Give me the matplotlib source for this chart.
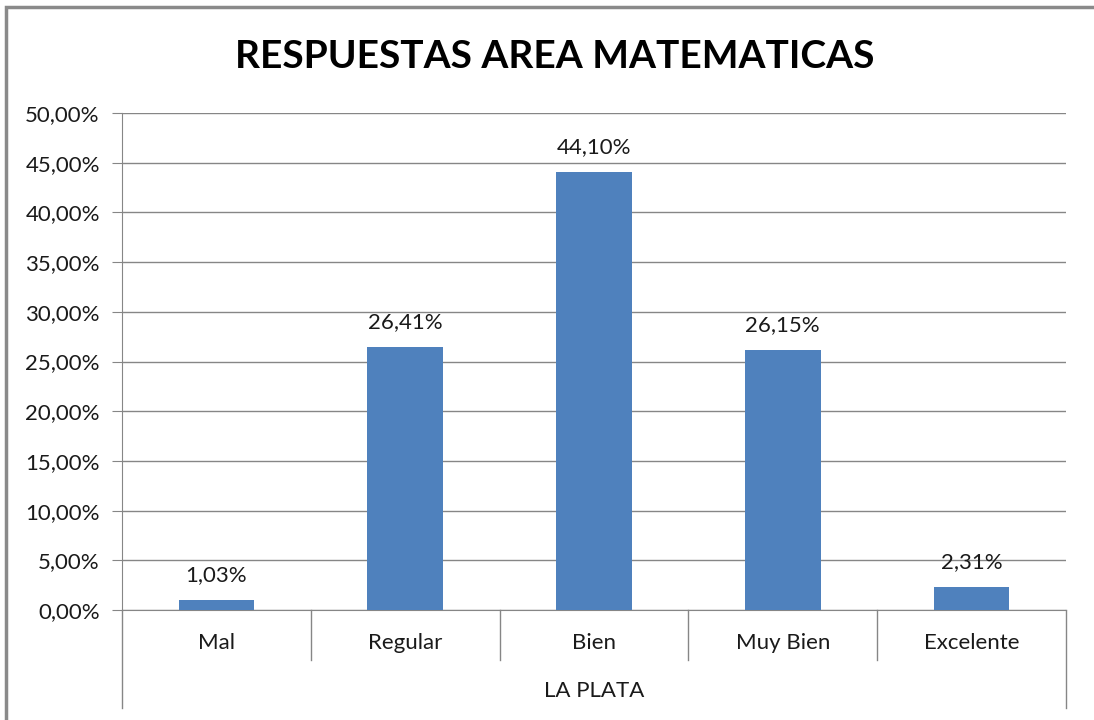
import matplotlib
matplotlib.use('Agg')
import matplotlib.pyplot as plt
import matplotlib.transforms as mtransforms
from matplotlib.patches import Rectangle

# data
categories = ['Mal', 'Regular', 'Bien', 'Muy Bien', 'Excelente']
values = [1.03, 26.41, 44.10, 26.15, 2.31]
value_labels = ['1,03%', '26,41%', '44,10%', '26,15%', '2,31%']
group_label = 'LA PLATA'
title = 'RESPUESTAS AREA MATEMATICAS'
yticks = [0, 5, 10, 15, 20, 25, 30, 35, 40, 45, 50]
ytick_labels = ['%d,00%%' % t for t in yticks]

W, H = 1094, 720
fig = plt.figure(figsize=(W / 100, H / 100), dpi=100)
plt.rcParams['font.family'] = ['Lato', 'DejaVu Sans']

grid_col = '#868686'
text_col = '#1a1a1a'
fs = 16

# outer frame (only left/top visible in the crop)
fig.patches.append(Rectangle((6 / W, -0.1), 1.2, (H - 7) / H + 0.1, transform=fig.transFigure,
                             fill=False, edgecolor='#8a8a8a', linewidth=2.5))

# plot area in pixels
x0, x1, ytop, ybot = 122, 1066, 113, 610
ax = fig.add_axes([x0 / W, (H - ybot) / H, (x1 - x0) / W, (ybot - ytop) / H])

xs = list(range(len(categories)))
ax.bar(xs, values, width=0.4, color='#4F81BD', zorder=3)
for x, v, lab in zip(xs, values, value_labels):
    ax.text(x, v + 1.5, lab, ha='center', va='bottom', fontsize=fs, color=text_col, zorder=4)

ax.set_xlim(-0.5, len(categories) - 0.5)
ax.set_ylim(0, 50)
ax.set_yticks(yticks)
ax.set_yticklabels(ytick_labels, fontsize=fs, color=text_col)
ax.tick_params(axis='y', length=7, color=grid_col, pad=9)
ax.set_xticks([])
ax.yaxis.grid(True, color=grid_col, linewidth=1)
ax.set_axisbelow(True)
for s in ['top', 'right']:
    ax.spines[s].set_visible(False)
ax.spines['left'].set_color(grid_col)
ax.spines['bottom'].set_color(grid_col)

# category separators below the axis
trans = mtransforms.blended_transform_factory(ax.transData, ax.transAxes)
ph = ybot - ytop
inner_bot = -(660 - ybot) / ph
outer_bot = -(708 - ybot) / ph
for k in range(len(categories) + 1):
    xb = k - 0.5
    yb = outer_bot if k in (0, len(categories)) else inner_bot
    ax.plot([xb, xb], [0, yb], color=grid_col, linewidth=1, transform=trans, clip_on=False)

for x, c in zip(xs, categories):
    ax.text(x, -(643 - ybot) / ph, c, ha='center', va='center', fontsize=fs,
            color=text_col, transform=trans)
ax.text(0.5, -(691 - ybot) / ph, group_label, ha='center', va='center', fontsize=fs,
        color=text_col, transform=ax.transAxes)

fig.text(555 / W, 1 - 57 / H, title, ha='center', va='center', fontsize=28,
         fontweight='bold', color='black')

fig.savefig('out.png', dpi=100, facecolor='white')
